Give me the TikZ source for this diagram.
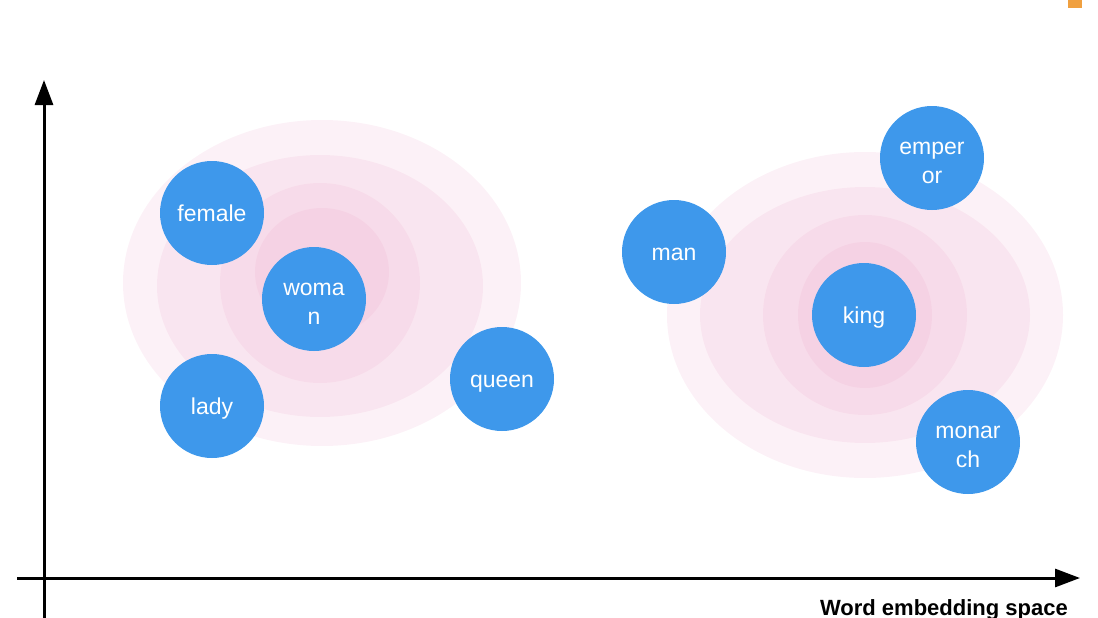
\documentclass[tikz,border=0pt]{standalone}
\usepackage{fontspec}
\setmainfont{Liberation Sans}
\usetikzlibrary{arrows.meta}
\definecolor{dotblue}{HTML}{3E98EB}
\definecolor{halo}{HTML}{E896C0}
\definecolor{tagorange}{HTML}{F0A040}
\tikzset{
  word/.style={circle, fill=dotblue, minimum size=104pt, inner sep=0pt,
    text=white, align=center, font=\fontsize{23}{29}\selectfont,
    text height=17pt, text depth=0pt},
  word2/.style={word, text height=50pt, text depth=0pt},
  ring/.style={fill=halo, fill opacity=0.13, draw=none},
  axis/.style={line width=3pt, -{Triangle[width=18pt,length=25pt]}},
}
\begin{document}
\begin{tikzpicture}[x=1pt,y=-1pt]
\useasboundingbox (0,0) rectangle (1098,618);
\fill[tagorange] (1068,0) rectangle (1082,8);

% similarity halos around the two clusters
\fill[ring] (322,283) ellipse [x radius=199, y radius=163];
\fill[ring] (320,286) ellipse [x radius=163, y radius=131];
\fill[ring] (320,283) ellipse [x radius=100, y radius=100];
\fill[ring] (322,272) ellipse [x radius=67, y radius=64];

\fill[ring] (865,315) ellipse [x radius=198, y radius=163];
\fill[ring] (865,315) ellipse [x radius=165, y radius=128];
\fill[ring] (865,315) ellipse [x radius=102, y radius=100];
\fill[ring] (865,315) ellipse [x radius=67, y radius=73];

% axes
\coordinate (ybot) at (44,618);
\coordinate (ytop) at (44,80);
\coordinate (xleft) at (17,578);
\coordinate (xright) at (1080,578);
\draw[axis] (ybot) -- (ytop);
\draw[axis] (xleft) -- (xright);
\node[anchor=base east, font=\fontsize{22}{26}\selectfont\bfseries, inner sep=0pt] (xlabel) at (1068,615) {Word embedding space};

% words
\node[word] (female) at (212,213) {female};
\node[word2] (woman) at (314,299) {woma\\n};
\node[word] (lady) at (212,406) {lady};
\node[word] (queen) at (502,379) {queen};
\node[word] (man) at (674,252) {man};
\node[word2] (emperor) at (932,158) {emper\\or};
\node[word] (king) at (864,315) {king};
\node[word2] (monarch) at (968,442) {monar\\ch};
\end{tikzpicture}
\end{document}
